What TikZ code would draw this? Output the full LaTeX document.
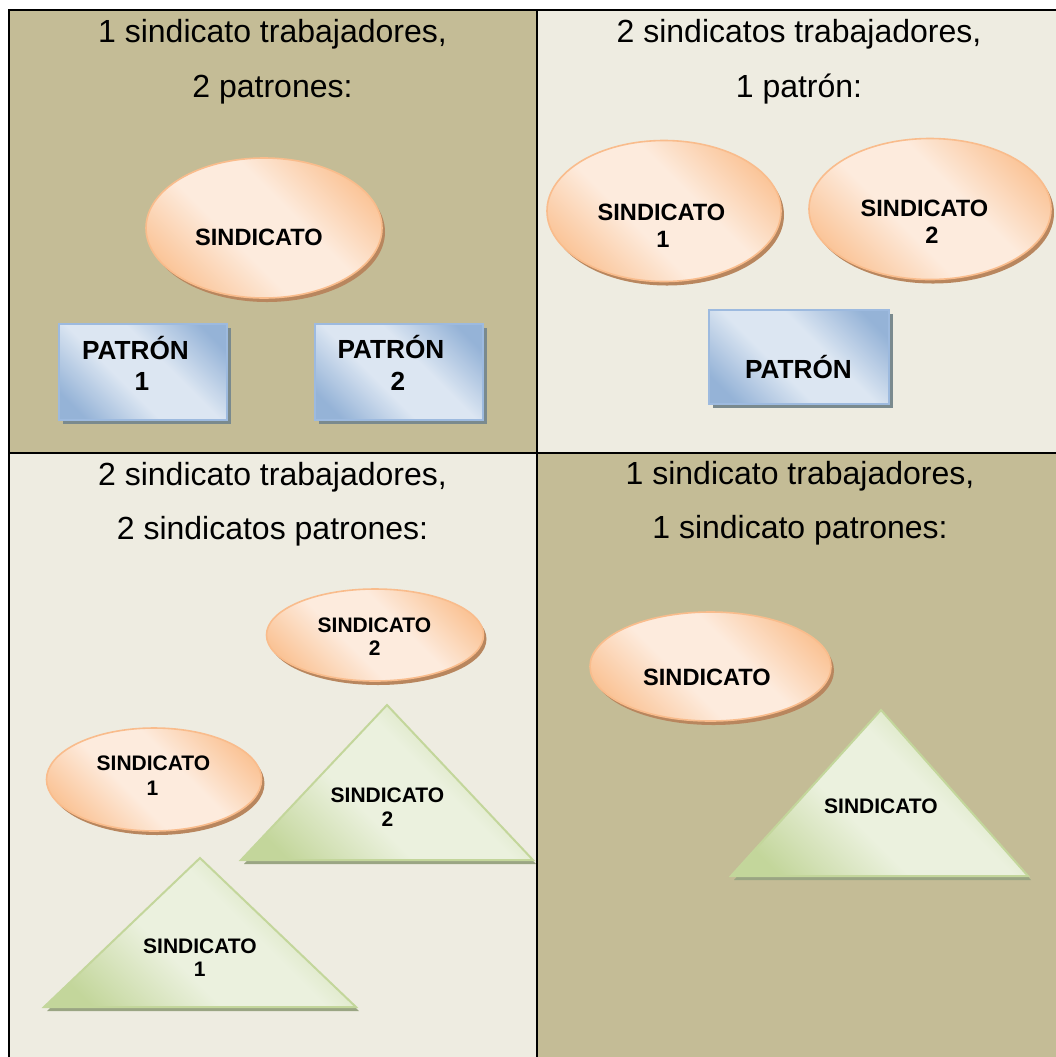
\documentclass[tikz,border=0pt]{standalone}
\usepackage{fontspec}
\setmainfont{Liberation Sans}
\usetikzlibrary{shapes.geometric,shadows}
\definecolor{khaki}{HTML}{C4BC96}
\definecolor{cream}{HTML}{EEECE1}
\definecolor{odark}{HTML}{FAC090}
\definecolor{olight}{HTML}{FDEBDD}
\definecolor{oline}{HTML}{F9BC8C}
\definecolor{oshadow}{HTML}{B8865E}
\definecolor{bdark}{HTML}{95B3D7}
\definecolor{blight}{HTML}{DCE6F2}
\definecolor{bline}{HTML}{9DBADF}
\definecolor{bshadow}{HTML}{7A8A8E}
\definecolor{gdark}{HTML}{C3D69B}
\definecolor{glight}{HTML}{EBF1DE}
\definecolor{gline}{HTML}{C3D69B}
\definecolor{gshadow}{HTML}{9AA583}
\pgfdeclarehorizontalshading{oshade}{100bp}{color(0bp)=(odark); color(22bp)=(odark); color(42bp)=(olight); color(58bp)=(olight); color(78bp)=(odark); color(100bp)=(odark)}
\pgfdeclarehorizontalshading{bshade}{100bp}{color(0bp)=(bdark); color(22bp)=(bdark); color(42bp)=(blight); color(58bp)=(blight); color(78bp)=(bdark); color(100bp)=(bdark)}
\pgfdeclarehorizontalshading{gshade}{100bp}{color(0bp)=(gdark); color(22bp)=(gdark); color(42bp)=(glight); color(58bp)=(glight); color(78bp)=(gdark); color(100bp)=(gdark)}
\begin{document}
\begin{tikzpicture}[x=0.5pt,y=-0.5pt,
  grid/.style={line width=1.1pt, black},
  title/.style={font=\fontsize{16pt}{19pt}\selectfont, anchor=base, inner sep=0pt},
  lblA/.style={font=\fontsize{11.8pt}{14pt}\selectfont\bfseries, anchor=base, inner sep=0pt},
  lblB/.style={font=\fontsize{10.5pt}{12.5pt}\selectfont\bfseries, anchor=base, inner sep=0pt},
  lblP/.style={font=\fontsize{13.1pt}{15.5pt}\selectfont\bfseries, anchor=base, inner sep=0pt},
  oval/.style={ellipse, inner sep=0pt, outer sep=0pt, draw=oline, line width=0.8pt, shade, shading=oshade, shading angle=45,
    drop shadow={shadow xshift=1.5pt, shadow yshift=-2pt, fill=oshadow, opacity=1}},
  pbox/.style={rectangle, inner sep=0pt, outer sep=0pt, draw=bline, line width=1pt, shade, shading=bshade, shading angle=45,
    drop shadow={shadow xshift=2pt, shadow yshift=-2pt, fill=bshadow, opacity=1}},
  tri/.style={draw=gline, line width=1pt, shade, shading=gshade, shading angle=45,
    drop shadow={shadow xshift=1.5pt, shadow yshift=-2pt, fill=gshadow, opacity=1}}
]
\useasboundingbox (0,0) rectangle (1056,1057);
\clip (0,0) rectangle (1056,1057);
\fill[white] (0,0) rectangle (1056,1057);
% cells
\fill[khaki] (9,10) rectangle (537,453);
\fill[cream] (537,10) rectangle (1080,453);
\fill[cream] (9,453) rectangle (537,1080);
\fill[khaki] (537,453) rectangle (1080,1080);
\draw[grid] (9.3,1080) -- (9.3,10) -- (1080,10);
\draw[grid] (536.7,10) -- (536.7,1080);
\draw[grid] (9.3,452.7) -- (1080,452.7);
% titles
\node[title] (t1a) at (272.5,42) {1 sindicato trabajadores,};
\node[title] (t1b) at (272.5,97) {2 patrones:};
\node[title] (t2a) at (799,42) {2 sindicatos trabajadores,};
\node[title] (t2b) at (799,97) {1 patrón:};
\node[title] (t3a) at (272.5,485) {2 sindicato trabajadores,};
\node[title] (t3b) at (272.5,539) {2 sindicatos patrones:};
\node[title] (t4a) at (800,484) {1 sindicato trabajadores,};
\node[title] (t4b) at (800,538) {1 sindicato patrones:};
% top left
\node[oval, minimum width=118pt, minimum height=70pt] (e1) at (264,228) {};
\node[lblA] (e1t) at (259,245) {SINDICATO};
\node[pbox, minimum width=84pt, minimum height=48pt] (p1) at (143,372) {};
\node[lblP] (p1t) at (135.5,359) {PATRÓN};
\node[lblP] (p1n) at (142,390) {1};
\node[pbox, minimum width=84pt, minimum height=48pt] (p2) at (399,372) {};
\node[lblP] (p2t) at (391,358) {PATRÓN};
\node[lblP] (p2n) at (398,390) {2};
% top right
\node[oval, minimum width=117pt, minimum height=70.5pt] (e2a) at (664,211) {};
\node[lblA] (e2at) at (661.5,220) {SINDICATO};
\node[lblA] (e2an) at (663,247) {1};
\node[oval, minimum width=121pt, minimum height=70.5pt] (e2b) at (930,209) {};
\node[lblA] (e2bt) at (924.5,216) {SINDICATO};
\node[lblA] (e2bn) at (932,243) {2};
\node[pbox, minimum width=90pt, minimum height=47pt] (p3) at (798.5,356.5) {};
\node[lblP] (p3t) at (798.5,378) {PATRÓN};
% bottom left
\node[oval, minimum width=108.5pt, minimum height=46pt] (e3b) at (375,635) {};
\node[lblB] (e3bt) at (374.5,632) {SINDICATO};
\node[lblB] (e3bn) at (374.7,655) {2};
\node[oval, minimum width=107.5pt, minimum height=51.5pt] (e3a) at (154,779.5) {};
\node[lblB] (e3at) at (153.5,770.5) {SINDICATO};
\node[lblB] (e3an) at (152.5,795) {1};
\path[tri] (387,705) -- (533,860) -- (241,860) -- cycle;
\node[lblB] (t3bt) at (387.5,802) {SINDICATO};
\node[lblB] (t3bn) at (387.4,826.5) {2};
\path[tri] (200,858) -- (356,1007) -- (44,1007) -- cycle;
\node[lblB] (t3at) at (200,953) {SINDICATO};
\node[lblB] (t3an) at (199.7,976) {1};
% bottom right
\node[oval, minimum width=120.5pt, minimum height=54.5pt] (e4) at (710.5,666.5) {};
\node[lblA] (e4t) at (707,685) {SINDICATO};
\path[tri] (881,710) -- (1028,876) -- (731,876) -- cycle;
\node[lblB] (t4t) at (881,813) {SINDICATO};
\end{tikzpicture}
\end{document}
